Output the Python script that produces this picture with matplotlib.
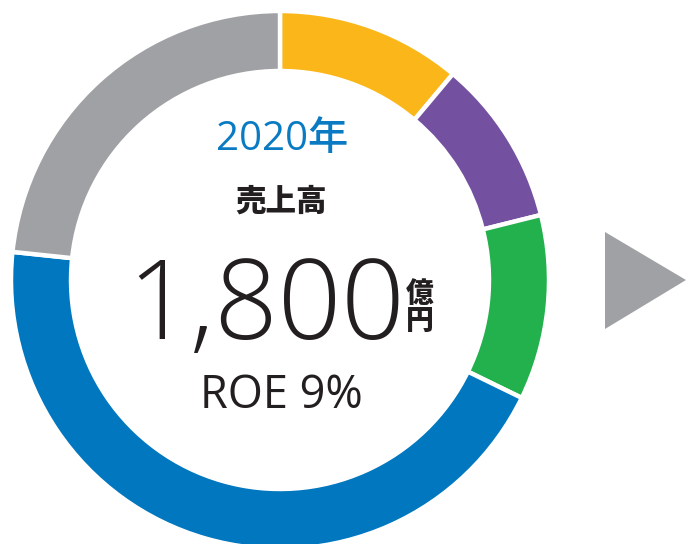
import matplotlib
matplotlib.use("Agg")
import matplotlib.pyplot as plt
from matplotlib.patches import Polygon

# Data (億円), clockwise from top
segments = ["A", "B", "C", "D", "E"]
values = [200, 180, 200, 800, 420]
colors = ["#FBB619", "#7451A0", "#22B14C", "#0077BF", "#A0A1A5"]
year_label = "2020年"
title_label = "売上高"
total_label = "1,800"
unit_labels = ["億", "円"]
roe_label = "ROE 9%"

W, H = 686, 544
fig = plt.figure(figsize=(W / 100, H / 100), dpi=100)
ax = fig.add_axes([0, 0, 1, 1])

cx, cy = 280, H - 280
ax.pie(values, colors=colors, startangle=90, counterclock=False,
       radius=269, center=(cx, cy),
       wedgeprops=dict(width=60, edgecolor="white", linewidth=3.2))

ax.set_xlim(0, W)
ax.set_ylim(0, H)
ax.set_aspect("equal")
ax.set_axis_off()

latin = ["Open Sans", "Noto Sans CJK JP", "DejaVu Sans"]
cjk = ["Noto Sans CJK JP", "DejaVu Sans"]

ax.text(282, H - 140, year_label, color="#0A7BC2", fontsize=29,
        family=latin, fontweight="medium", ha="center", va="center")
ax.text(281, H - 201, title_label, color="#231F20", fontsize=22,
        family=cjk, fontweight="heavy", ha="center", va="center")
ax.text(266, H - 297, total_label, color="#231F20", fontsize=80,
        family=["Open Sans", "DejaVu Sans"], fontweight="light",
        ha="center", va="center_baseline")
ax.text(420, H - 307, "\n".join(unit_labels), color="#231F20", fontsize=20,
        family=cjk, fontweight="heavy", ha="center", va="center",
        linespacing=0.95, multialignment="center")
ax.text(281, H - 396, roe_label, color="#231F20", fontsize=32.5,
        family=latin, ha="center", va="center")

tri = Polygon([[605, H - 232], [605, H - 329], [686, H - 280]],
              closed=True, facecolor="#A0A1A5", edgecolor="none")
ax.add_patch(tri)

fig.savefig("out.png", dpi=100, facecolor="white")
